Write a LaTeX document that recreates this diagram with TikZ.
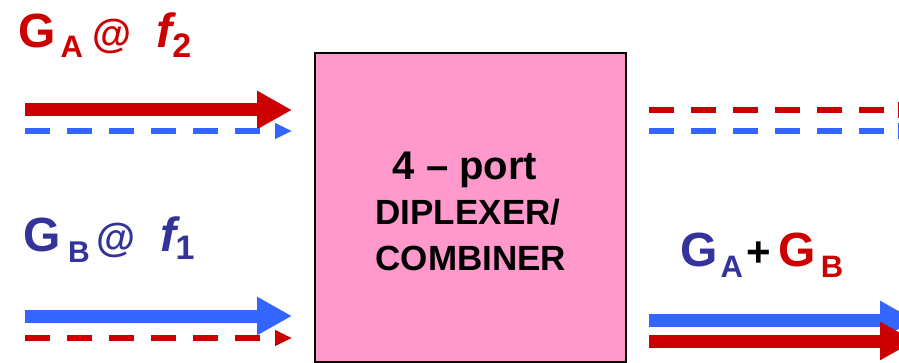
\documentclass[tikz,border=0pt]{standalone}
\usepackage{fontspec}
\setmainfont{Liberation Sans}
\usetikzlibrary{arrows.meta}
\definecolor{cred}{HTML}{CC0000}
\definecolor{cblue}{HTML}{3366FF}
\definecolor{cnavy}{HTML}{333399}
\definecolor{cpink}{HTML}{FF99CC}
\newcommand{\fs}[1]{\fontsize{#1}{#1}\selectfont}
\begin{document}
\begin{tikzpicture}[x=1pt,y=-1pt,
  fatarrow/.style={line width=13pt,-{Triangle[length=35pt,width=36pt]}},
  dasharrow/.style={line width=6pt,dash pattern=on 25pt off 17pt,-{Triangle[length=17pt,width=15pt]}},
  lbl/.style={inner sep=0pt,anchor=base west,font=\bfseries},
  boxtxt/.style={inner sep=0pt,anchor=base,font=\bfseries,text=black}]
\clip (0,0) rectangle (899,363);
\fill[white] (0,0) rectangle (899,363);
% block
\node[draw=black,line width=1.5pt,fill=cpink,minimum width=311pt,minimum height=309pt,inner sep=0pt] (box) at (470.5,207.5) {};
\node[boxtxt] (t1) at (465,180) {\fs{40}4 -- port};
\node[boxtxt] (t2) at (468,225) {\fs{35}DIPLEXER/};
\node[boxtxt] (t3) at (471,270) {\fs{35}COMBINER};
% arrow end points
\coordinate (a1s) at (25,110);  \coordinate (a1e) at (292,110);
\coordinate (b1s) at (25,131);  \coordinate (b1e) at (292,131);
\coordinate (a2s) at (25,316);  \coordinate (a2e) at (292,316);
\coordinate (b2s) at (25,338);  \coordinate (b2e) at (292,338);
\coordinate (r1s) at (649,110); \coordinate (r1e) at (915,110);
\coordinate (r2s) at (649,131); \coordinate (r2e) at (915,131);
\coordinate (r3s) at (649,320); \coordinate (r3e) at (915,320);
\coordinate (r4s) at (649,341); \coordinate (r4e) at (915,341);
% inputs
\draw[fatarrow,cred] (a1s) -- (a1e);
\draw[dasharrow,cblue] (b1s) -- (b1e);
\draw[fatarrow,cblue] (a2s) -- (a2e);
\draw[dasharrow,cred] (b2s) -- (b2e);
% outputs
\draw[dasharrow,cred] (r1s) -- (r1e);
\draw[dasharrow,cblue] (r2s) -- (r2e);
\draw[fatarrow,cblue] (r3s) -- (r3e);
\draw[fatarrow,cred] (r4s) -- (r4e);
% labels
\node[lbl,text=cred] (la) at (18,48) {{\fs{48}G}\hspace{5pt}\raisebox{-10pt}{\fs{31}A}\hspace{9.5pt}{\fs{40}@}\hspace{25pt}{\fs{48}\itshape f}\hspace{0pt}\raisebox{-10pt}{\fs{34}2}};
\node[lbl,text=cnavy] (lb) at (23,252) {{\fs{48}G}\hspace{7.5pt}\raisebox{-11pt}{\fs{30}B}\hspace{7pt}{\fs{40}@}\hspace{25pt}{\fs{48}\itshape f}\hspace{-1pt}\raisebox{-8pt}{\fs{34}1}};
\node[lbl] (lc) at (680,266) {{\fs{48}\color{cnavy}G}\hspace{3pt}\raisebox{-11pt}{\fs{31}\color{cnavy}A}\hspace{4pt}{\fs{42}+}\hspace{7.5pt}{\fs{48}\color{cred}G}\hspace{4.5pt}\raisebox{-11pt}{\fs{31}\color{cred}B}};
\end{tikzpicture}
\end{document}
